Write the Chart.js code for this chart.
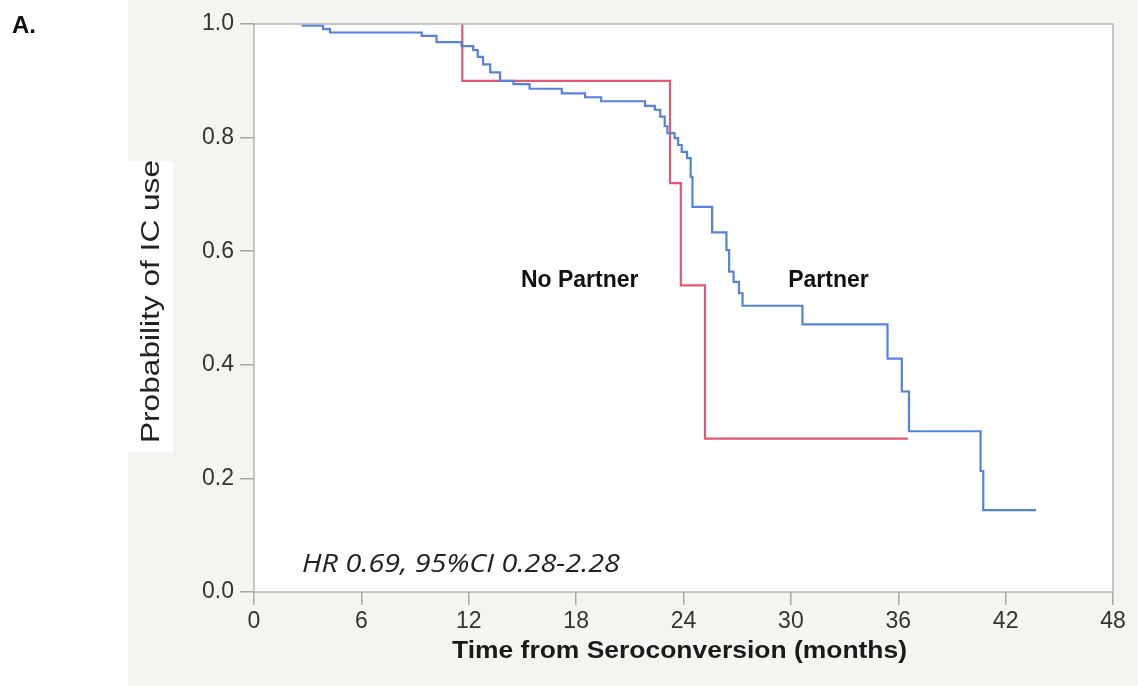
<!DOCTYPE html>
<html>
<head>
<meta charset="utf-8">
<title>Probability of IC use</title>
<script src="https://cdn.jsdelivr.net/npm/chart.js@4.4.1/dist/chart.umd.min.js"></script>
<style>
  html, body { margin: 0; padding: 0; background: #ffffff; }
  #wrap { width: 1138px; height: 686px; position: relative; }
</style>
</head>
<body>
<div id="wrap"><canvas id="kmChart" width="1138" height="686"></canvas></div>
<script>
// Kaplan-Meier step data (months, survival after each step)
const partnerTimes = [2.66, 3.86, 4.25, 9.37, 10.2, 11.6, 12.25, 12.5, 12.8, 13.2, 13.75, 14.5, 15.4, 17.2, 18.5, 19.4,
    21.85, 22.4, 22.7, 22.95, 23.1, 23.5, 23.7, 23.9, 24.2, 24.4, 24.5, 25.6, 26.4, 26.55, 26.8, 27.1, 27.3,
    30.65, 35.4, 36.2, 36.6, 40.6, 40.75, 43.7];
const partnerSurv = [0.997, 0.991, 0.985, 0.979, 0.968, 0.961, 0.954, 0.942, 0.929, 0.915, 0.9, 0.894, 0.886, 0.878, 0.871, 0.864,
    0.856, 0.849, 0.837, 0.82, 0.808, 0.799, 0.787, 0.775, 0.764, 0.731, 0.678, 0.633, 0.602, 0.564, 0.546, 0.526, 0.504,
    0.471, 0.411, 0.353, 0.283, 0.213, 0.144, 0.144];

const noPartnerTimes = [11.64, 11.64, 23.25, 23.85, 25.2, 36.55];
const noPartnerSurv = [1.0, 0.9, 0.72, 0.54, 0.27, 0.27];

const xTicks = [0, 6, 12, 18, 24, 30, 36, 42, 48];
const yTicks = [0, 0.2, 0.4, 0.6, 0.8, 1.0];

const BLUE = '#5482dc';
const RED = '#df5a70';
const FONT = '"Liberation Sans", Arial, sans-serif';

function toPoints(times, surv) {
    return times.map((t, i) => ({ x: t, y: surv[i] }));
}

// draws text squeezed/stretched along its baseline to a given width
function fitText(ctx, text, cx, cy, width, rotate) {
    const w = ctx.measureText(text).width;
    ctx.save();
    ctx.translate(cx, cy);
    if (rotate) ctx.rotate(-Math.PI / 2);
    ctx.scale(width / w, 1);
    ctx.fillText(text, 0, 0);
    ctx.restore();
}

// background panel, title box and plot frame
const backdrop = {
    id: 'backdrop',
    beforeDraw(chart) {
        const { ctx, chartArea: a } = chart;
        ctx.save();
        ctx.fillStyle = '#ffffff';
        ctx.fillRect(0, 0, chart.width, chart.height);
        ctx.fillStyle = '#f4f4f1';
        ctx.fillRect(128, 0, chart.width - 128, chart.height);
        ctx.fillStyle = '#ffffff';
        ctx.fillRect(128, 161, 45, 291);
        ctx.fillRect(a.left, a.top, a.right - a.left, a.bottom - a.top);
        ctx.restore();
    },
    afterDraw(chart) {
        const { ctx, chartArea: a } = chart;
        ctx.save();
        ctx.strokeStyle = '#b4b4b4';
        ctx.lineWidth = 1.5;
        ctx.strokeRect(a.left, a.top, a.right - a.left, a.bottom - a.top);

        ctx.fillStyle = '#111';
        ctx.font = 'bold 24px ' + FONT;
        ctx.textBaseline = 'middle';
        ctx.textAlign = 'left';
        ctx.fillText('A.', 12, 26);

        // axis titles
        ctx.fillStyle = '#1a1a1a';
        ctx.textAlign = 'center';
        ctx.font = 'bold 23px ' + FONT;
        fitText(ctx, 'Time from Seroconversion (months)', 679.5, 652, 455, false);

        ctx.font = '26px ' + FONT;
        ctx.fillStyle = '#222';
        fitText(ctx, 'Probability of IC use', 152, 301.5, 283, true);
        ctx.restore();
    }
};

// curve labels and hazard ratio note inside the plot
const notes = {
    id: 'notes',
    afterDatasetsDraw(chart) {
        const { ctx, scales: { x, y } } = chart;
        ctx.save();
        ctx.fillStyle = '#111';
        ctx.textBaseline = 'middle';
        ctx.textAlign = 'center';
        ctx.font = 'bold 23px ' + FONT;
        ctx.fillText('No Partner', x.getPixelForValue(18.2), y.getPixelForValue(0.549));
        ctx.fillText('Partner', x.getPixelForValue(32.1), y.getPixelForValue(0.549));

        ctx.textAlign = 'left';
        ctx.font = 'italic 25px "Open Sans", sans-serif';
        ctx.fillStyle = '#222';
        fitText(ctx, 'HR 0.69, 95%CI 0.28-2.28', x.getPixelForValue(2.68), y.getPixelForValue(0.047), 318, false);
        ctx.restore();
    }
};

new Chart(document.getElementById('kmChart'), {
    type: 'line',
    data: {
        datasets: [
            {
                label: 'Partner',
                data: toPoints(partnerTimes, partnerSurv),
                borderColor: BLUE,
                borderWidth: 2.2,
                stepped: 'before',
                pointRadius: 0,
                fill: false,
                clip: 4
            },
            {
                label: 'No Partner',
                data: toPoints(noPartnerTimes, noPartnerSurv),
                borderColor: RED,
                borderWidth: 2.2,
                stepped: 'before',
                pointRadius: 0,
                fill: false,
                clip: 4
            }
        ]
    },
    options: {
        responsive: false,
        animation: false,
        layout: { padding: { left: 128, top: 24, right: 25, bottom: 0 } },
        plugins: {
            legend: { display: false },
            tooltip: { enabled: false }
        },
        scales: {
            x: {
                type: 'linear',
                min: 0,
                max: 48,
                afterBuildTicks: (s) => { s.ticks = xTicks.map(v => ({ value: v })); },
                afterFit: (s) => { s.height = 94; },
                ticks: {
                    font: { family: FONT, size: 23 },
                    color: '#333',
                    padding: 3,
                    maxRotation: 0
                },
                grid: { drawOnChartArea: false, tickLength: 13, color: '#a8a8a8', lineWidth: 1.5 },
                border: { display: false }
            },
            y: {
                min: 0,
                max: 1,
                afterBuildTicks: (s) => { s.ticks = yTicks.map(v => ({ value: v })); },
                afterFit: (s) => { s.width = 126; },
                ticks: {
                    font: { family: FONT, size: 23 },
                    color: '#333',
                    padding: 6,
                    callback: (v) => v.toFixed(1)
                },
                grid: { drawOnChartArea: false, tickLength: 14, color: '#a8a8a8', lineWidth: 1.5 },
                border: { display: false }
            }
        }
    },
    plugins: [backdrop, notes]
});
</script>
</body>
</html>
